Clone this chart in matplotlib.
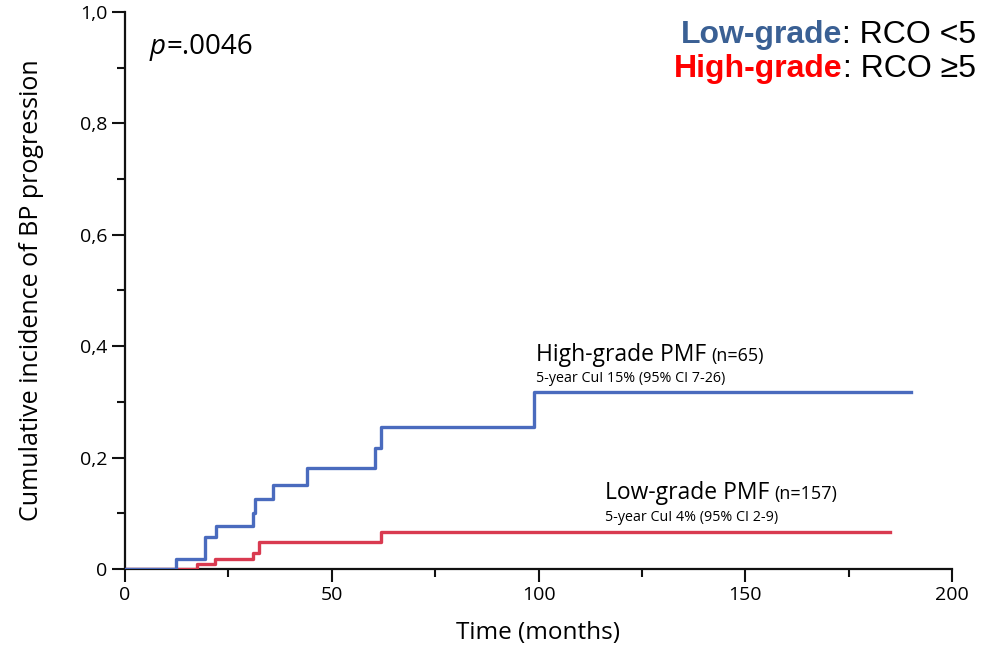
import matplotlib
matplotlib.use("Agg")
import matplotlib.pyplot as plt
from matplotlib.ticker import MultipleLocator

# Data
blue_t = [0, 12.3, 19.3, 22.0, 31.0, 31.4, 35.7, 44.0, 60.5, 62.0, 99.0, 190.0]
blue_y = [0, 0.018, 0.058, 0.078, 0.101, 0.126, 0.151, 0.181, 0.217, 0.255, 0.317, 0.317]
red_t = [0, 17.5, 21.7, 31.0, 32.5, 61.8, 185.0]
red_y = [0, 0.009, 0.018, 0.028, 0.048, 0.067, 0.067]

x_ticks = [0, 50, 100, 150, 200]
y_ticks = [0, 0.2, 0.4, 0.6, 0.8, 1.0]
y_tick_labels = ["0", "0,2", "0,4", "0,6", "0,8", "1,0"]

BLUE = "#4A6BBE"
RED = "#D93A50"
FONT = "Open Sans"

fig = plt.figure(figsize=(9.86, 6.5), dpi=100)
ax = fig.add_axes([125/986, 1 - 569/650, (952-125)/986, (569-12)/650])

ax.step(red_t, red_y, where="post", color=RED, lw=2.4, zorder=3)
ax.step(blue_t, blue_y, where="post", color=BLUE, lw=2.4, zorder=4)

ax.set_xlim(0, 200)
ax.set_ylim(0, 1.0)
for s in ["top", "right"]:
    ax.spines[s].set_visible(False)
for s in ["left", "bottom"]:
    ax.spines[s].set_linewidth(1.6)
    ax.spines[s].set_color("#111111")

ax.set_xticks(x_ticks)
ax.set_xticklabels([str(v) for v in x_ticks], fontfamily=FONT, fontsize=14)
ax.set_yticks(y_ticks)
ax.set_yticklabels(y_tick_labels, fontfamily=FONT, fontsize=14)
ax.xaxis.set_minor_locator(MultipleLocator(25))
ax.yaxis.set_minor_locator(MultipleLocator(0.1))
ax.tick_params(which="major", direction="out", length=9.5, width=1.5, color="#111111", pad=3)
ax.tick_params(which="minor", direction="out", length=5.5, width=1.5, color="#111111")
try:
    ax.yaxis.get_minor_ticks()[1].tick1line.set_color("0.75")
except Exception:
    pass

ax.set_xlabel("Time (months)", fontfamily=FONT, fontsize=17.5, labelpad=12)
ax.set_ylabel("Cumulative incidence of BP progression", fontfamily=FONT, fontsize=18, labelpad=26)

fig.canvas.draw()
r = fig.canvas.get_renderer()

tp = ax.text(6, 0.937, "p", style="italic", fontfamily=FONT, fontsize=20, va="center", ha="left")
bbp = tp.get_window_extent(renderer=r)
ax.text(ax.transData.inverted().transform((bbp.x1 + 1, 0))[0], 0.937, "=.0046",
        fontfamily=FONT, fontsize=20, va="center", ha="left")

# Curve annotations
def two_part(x, y, a, b, sa, sb):
    t1 = ax.text(x, y, a, fontfamily=FONT, fontsize=sa, ha="left", va="baseline")
    bb = t1.get_window_extent(renderer=r)
    x2 = ax.transData.inverted().transform((bb.x1 + 5, 0))[0]
    ax.text(x2, y, b, fontfamily=FONT, fontsize=sb, ha="left", va="baseline")

two_part(99.5, 0.374, "High-grade PMF", "(n=65)", 16.5, 13)
ax.text(99.5, 0.336, "5-year CuI 15% (95% CI 7-26)", fontfamily=FONT, fontsize=10.3, ha="left", va="baseline")
two_part(116, 0.126, "Low-grade PMF", "(n=157)", 16.5, 13)
ax.text(116, 0.087, "5-year CuI 4% (95% CI 2-9)", fontfamily=FONT, fontsize=10.3, ha="left", va="baseline")

# Colored legend text (top right)
def legend_line(ypix, colored, color, rest):
    xr = 976 / 986
    yf = 1 - ypix / 650
    t2 = fig.text(xr, yf, rest, fontfamily="Liberation Sans", fontsize=23, ha="right", va="baseline", color="black")
    bb = t2.get_window_extent(renderer=r)
    fig.text(bb.x0 / fig.bbox.width, yf, colored, fontfamily="Liberation Sans", fontsize=23,
             fontweight="bold", ha="right", va="baseline", color=color)

legend_line(43, "Low-grade", "#3A6094", ": RCO <5")
legend_line(77, "High-grade", "#FF0000", ": RCO \u22655")

fig.savefig("out.png", dpi=100)
